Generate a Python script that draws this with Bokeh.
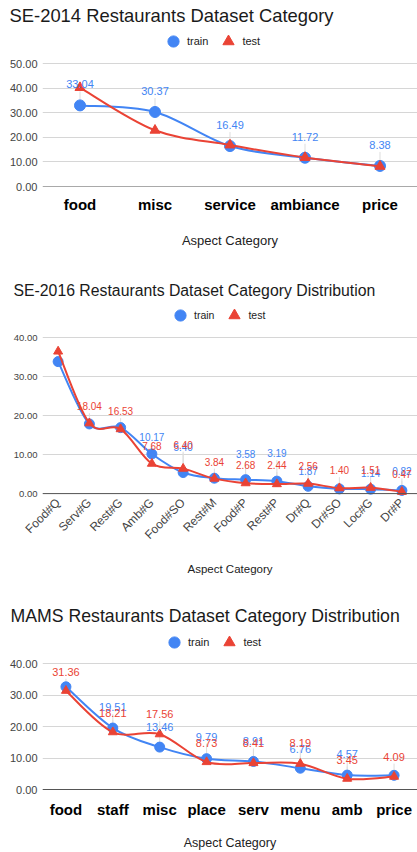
import math
from bokeh.plotting import figure
from bokeh.models import (Range1d, FixedTicker, NumeralTickFormatter, Legend, LegendItem,
                          Span, ColumnDataSource, LabelSet)
from bokeh.layouts import column
from bokeh.embed import file_html
from bokeh.resources import INLINE
from bokeh.core.properties import value

# ------------------------------------------------------------------ data
x_axis_title = "Aspect Category"
series_names = ["train", "test"]

se14_title = "SE-2014 Restaurants Dataset Category"
se14_categories = ["food", "misc", "service", "ambiance", "price"]
se14_train = [33.04, 30.37, 16.49, 11.72, 8.38]
se14_test = [40.30, 22.90, 16.90, 11.80, 8.20]
se14_yticks = [0, 10, 20, 30, 40, 50]

se16_title = "SE-2016 Restaurants Dataset Category Distribution"
se16_categories = ["Food#Q", "Serv#G", "Rest#G", "Amb#G", "Food#SO", "Rest#M",
                   "Food#P", "Rest#P", "Dr#Q", "Dr#SO", "Loc#G", "Dr#P"]
se16_train = [33.84, 17.86, 16.92, 10.17, 5.40, 3.95, 3.58, 3.19, 1.87, 1.21, 1.14, 0.82]
se16_test = [36.45, 18.04, 16.53, 7.68, 6.40, 3.84, 2.68, 2.44, 2.56, 1.40, 1.51, 0.47]
se16_yticks = [0, 10, 20, 30, 40]

mams_title = "MAMS Restaurants Dataset Category Distribution"
mams_categories = ["food", "staff", "misc", "place", "serv", "menu", "amb", "price"]
mams_train = [32.60, 19.51, 13.46, 9.79, 8.91, 6.76, 4.57, 4.50]
mams_test = [31.36, 18.21, 17.56, 8.73, 8.41, 8.19, 3.45, 4.09]
mams_yticks = [0, 10, 20, 30, 40]

# ------------------------------------------------------------------ styles
# data-label offsets above the point in pixels (None = label hidden)
se14_train_lbl = [21, 21, 21, 21, 21]
se14_test_lbl = [None, None, None, None, None]
se16_train_lbl = [None, None, None, 17, 26, None, 26, 28, 15, None, 16, 19]
se16_test_lbl = [None, 17, 18, 18, 24, 17, 18, 19, 18, 18, 18, 18]
mams_train_lbl = [None, 21, 20, 22, 20, 19, 21, None]
mams_test_lbl = [19, 19, 20, 19, 20, 21, 19, 20]

FONT = "Liberation Sans"
BLUE = "#4285F4"
RED = "#EA4335"
W = 417


def bezier_parts(xs, ys, k=1.0 / 6.0):
    n = len(xs)
    out = dict(x0=[], y0=[], x1=[], y1=[], cx0=[], cy0=[], cx1=[], cy1=[])
    for i in range(n - 1):
        pm = i - 1 if i > 0 else i
        pp = i + 2 if i + 2 < n else i + 1
        out["x0"].append(xs[i]); out["y0"].append(ys[i])
        out["x1"].append(xs[i + 1]); out["y1"].append(ys[i + 1])
        out["cx0"].append(xs[i] + (xs[i + 1] - xs[pm]) * k)
        out["cy0"].append(ys[i] + (ys[i + 1] - ys[pm]) * k)
        out["cx1"].append(xs[i + 1] - (xs[pp] - xs[i]) * k)
        out["cy1"].append(ys[i + 1] - (ys[pp] - ys[i]) * k)
    return out


def make_chart(title, cats, train, test, yticks, train_lbl, test_lbl, g):
    n = len(cats)
    xs = list(range(n))
    frame_bottom = round(g["base"] - g["y_start"] * g["ppu"])
    frame_h = frame_bottom - g["frame_top"]
    y_end = g["y_start"] + frame_h / g["ppu"]
    p = figure(width=W, height=g["height"], title=title,
               x_range=Range1d(-0.5, n - 0.5), y_range=Range1d(g["y_start"], y_end),
               output_backend="svg", toolbar_location=None,
               min_border_left=g["left"], min_border_right=0,
               min_border_top=g["frame_top"], min_border_bottom=g["height"] - frame_bottom)
    p.outline_line_color = None
    p.background_fill_color = "white"
    p.border_fill_color = "white"

    p.title.text_font = FONT
    p.title.text_font_size = g["title_size"]
    p.title.text_font_style = "normal"
    p.title.text_color = "#1a1a1a"
    p.title.align = "left"
    p.title.offset = g["title_offset"]
    p.title.standoff = 0

    p.xgrid.visible = False
    p.ygrid.ticker = FixedTicker(ticks=yticks)
    p.ygrid.grid_line_color = "#d6d6d6"
    p.ygrid.grid_line_width = 1

    ya = p.yaxis[0]
    ya.ticker = FixedTicker(ticks=yticks)
    ya.formatter = NumeralTickFormatter(format="0.00")
    ya.axis_line_color = None
    ya.major_tick_line_color = None
    ya.minor_tick_line_color = None
    ya.major_tick_out = 0
    ya.major_tick_in = 0
    ya.major_label_standoff = 5
    ya.major_label_text_font = FONT
    ya.major_label_text_font_size = g["yl_size"]
    ya.major_label_text_color = "#444444"

    xa = p.xaxis[0]
    xa.ticker = FixedTicker(ticks=xs)
    xa.major_label_overrides = {i: c for i, c in enumerate(cats)}
    xa.axis_line_color = None
    xa.major_tick_line_color = None
    xa.minor_tick_line_color = None
    xa.major_tick_out = 0
    xa.major_tick_in = 0
    xa.major_label_standoff = g["xl_standoff"]
    xa.major_label_text_font = FONT
    xa.major_label_text_font_size = g["xl_size"]
    xa.major_label_text_font_style = g["xl_style"]
    xa.major_label_text_color = g["xl_color"]
    if g.get("xl_orient"):
        xa.major_label_orientation = g["xl_orient"]
    xa.axis_label = x_axis_title
    xa.axis_label_text_font = FONT
    xa.axis_label_text_font_size = g["al_size"]
    xa.axis_label_text_font_style = "normal"
    xa.axis_label_text_color = "#222222"
    xa.axis_label_standoff = g["al_standoff"]

    p.add_layout(Span(location=0, dimension="width", line_color="#555555", line_width=1))

    # thin leader lines from each point to its data label
    lx, ly0, ly1 = [], [], []
    for vals, offs in ((train, train_lbl), (test, test_lbl)):
        for i, (v, o) in enumerate(zip(vals, offs)):
            if o is not None:
                lx.append(xs[i]); ly0.append(v); ly1.append(v + (o - 7) / g["ppu"])
    p.segment(x0=lx, y0=ly0, x1=lx, y1=ly1, line_color="#dddddd", line_width=1)

    bt = bezier_parts(xs, train)
    p.bezier(source=ColumnDataSource(bt), x0="x0", y0="y0", x1="x1", y1="y1",
             cx0="cx0", cy0="cy0", cx1="cx1", cy1="cy1", line_color=BLUE, line_width=2)
    r_train = p.scatter(xs, train, marker="circle", size=g["circle"], color=BLUE)
    be = bezier_parts(xs, test)
    p.bezier(source=ColumnDataSource(be), x0="x0", y0="y0", x1="x1", y1="y1",
             cx0="cx0", cy0="cy0", cx1="cx1", cy1="cy1", line_color=RED, line_width=2)
    r_test = p.scatter(xs, test, marker="triangle", size=g["tri"], color=RED)

    for vals, offs, col in ((train, train_lbl, BLUE), (test, test_lbl, RED)):
        d = dict(x=[], y=[], t=[], o=[])
        for i, (v, o) in enumerate(zip(vals, offs)):
            if o is not None:
                d["x"].append(xs[i]); d["y"].append(v)
                d["t"].append(f"{v:.2f}"); d["o"].append(o)
        if d["x"]:
            p.add_layout(LabelSet(x="x", y="y", text="t", y_offset="o",
                                  source=ColumnDataSource(d),
                                  text_font=value(FONT), text_font_size=value(g["dl_size"]),
                                  text_color=col, text_align="center",
                                  text_baseline="middle"))

    legend = Legend(items=[LegendItem(label=series_names[0], renderers=[r_train]),
                           LegendItem(label=series_names[1], renderers=[r_test])],
                    orientation="horizontal",
                    location=(g["legend_left"], frame_bottom - (g["legend_cy"] + 15)),
                    glyph_width=28, glyph_height=30, label_standoff=0, spacing=6,
                    padding=0, margin=0, border_line_color=None,
                    background_fill_alpha=0, label_text_font=FONT,
                    label_text_font_size=g["lg_size"], label_text_color="#222222")
    p.add_layout(legend)
    return p


g14 = dict(height=270, left=42, frame_top=25, base=186, ppu=2.454, y_start=0.0,
           title_size="18.4px", title_offset=-33, legend_left=117, legend_cy=41,
           yl_size="11px", dl_size="11px", lg_size="11px", al_size="13px",
           xl_standoff=9, xl_size="15px", xl_style="bold", xl_color="#000000",
           al_standoff=17, circle=11, tri=10)
g16 = dict(height=320, left=41, frame_top=28, base=222.7, ppu=3.9, y_start=-1.0,
           title_size="15.8px", title_offset=-29, legend_left=124, legend_cy=45,
           yl_size="9.5px", dl_size="10px", lg_size="10.5px", al_size="11.5px",
           xl_standoff=3, xl_size="12px", xl_style="normal", xl_color="#444444",
           xl_orient=math.pi / 4, al_standoff=13, circle=10, tri=9)
gmams = dict(height=262, left=41, frame_top=35, base=199.3, ppu=3.15, y_start=-0.95,
             title_size="17.7px", title_offset=-32, legend_left=118, legend_cy=52,
             yl_size="11px", dl_size="11px", lg_size="11px", al_size="12.5px",
             xl_standoff=8, xl_size="15px", xl_style="bold", xl_color="#000000",
             al_standoff=15, circle=10, tri=9)

p1 = make_chart(se14_title, se14_categories, se14_train, se14_test, se14_yticks,
                se14_train_lbl, se14_test_lbl, g14)
p2 = make_chart(se16_title, se16_categories, se16_train, se16_test, se16_yticks,
                se16_train_lbl, se16_test_lbl, g16)
p3 = make_chart(mams_title, mams_categories, mams_train, mams_test, mams_yticks,
                mams_train_lbl, mams_test_lbl, gmams)

layout = column(p1, p2, p3, spacing=0)
open("out.html", "w").write(file_html(layout, INLINE))
